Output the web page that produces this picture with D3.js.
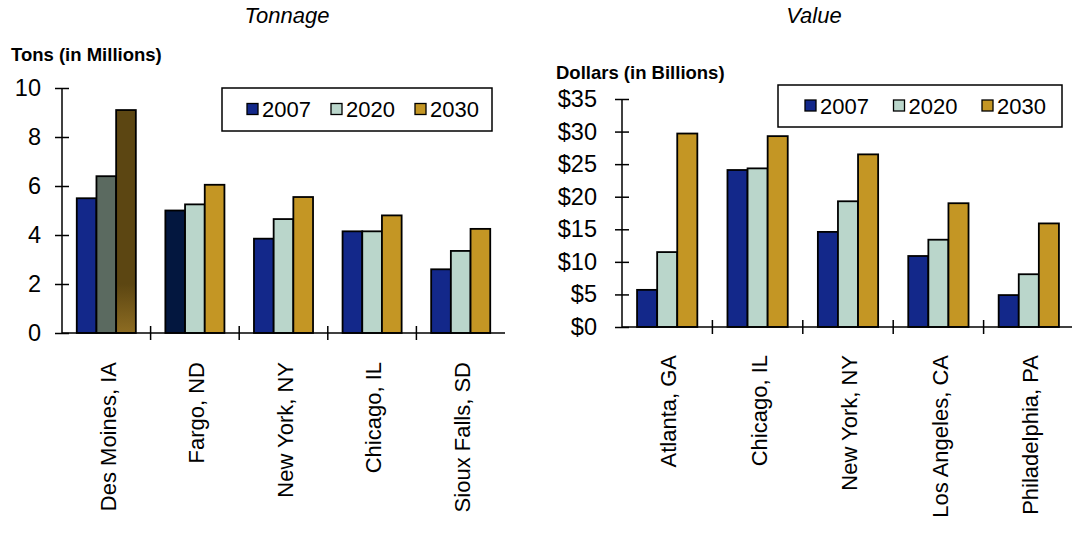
<!DOCTYPE html>
<html>
<head>
<meta charset="utf-8">
<script src="https://cdn.jsdelivr.net/npm/d3@7"></script>
<style>
  body { margin: 0; background: #fff; }
  svg { display: block; font-family: "Liberation Sans", Arial, sans-serif; }
</style>
</head>
<body>
<div id="vis"></div>
<script>
// ---- data ----
var years = ["2007", "2020", "2030"];

var tonCities = ["Des Moines, IA", "Fargo, ND", "New York, NY", "Chicago, IL", "Sioux Falls, SD"];
var tons2007 = [5.5, 5.0, 3.85, 4.15, 2.6];
var tons2020 = [6.4, 5.25, 4.65, 4.15, 3.35];
var tons2030 = [9.1, 6.05, 5.55, 4.8, 4.25];
var tonTicks = [0, 2, 4, 6, 8, 10];

var valCities = ["Atlanta, GA", "Chicago, IL", "New York, NY", "Los Angeles, CA", "Philadelphia, PA"];
var val2007 = [5.7, 24.1, 14.6, 10.9, 4.9];
var val2020 = [11.5, 24.35, 19.3, 13.4, 8.1];
var val2030 = [29.7, 29.3, 26.5, 19.0, 15.9];
var valTicks = [0, 5, 10, 15, 20, 25, 30, 35];

var colours = { "2007": "#13288a", "2020": "#bad6cb", "2030": "#c49624" };
// a few bars in the tonnage chart are drawn in darker shades
var highlight = {
  "Des Moines, IA|2020": "#5b6a60",
  "Des Moines, IA|2030": "url(#brownFade)",
  "Fargo, ND|2007": "#03173f"
};

var W = 1072, H = 533;

var svg = d3.select("#vis").append("svg")
  .attr("width", W)
  .attr("height", H);

var grad = svg.append("defs").append("linearGradient")
  .attr("id", "brownFade")
  .attr("x1", 0).attr("y1", 0).attr("x2", 0).attr("y2", 1);
grad.append("stop").attr("offset", "0").attr("stop-color", "#5c4612");
grad.append("stop").attr("offset", "0.78").attr("stop-color", "#5c4612");
grad.append("stop").attr("offset", "1").attr("stop-color", "#8d6c22");

function rows(cities, a, b, c) {
  return cities.map(function (city, i) {
    return { city: city, values: { "2007": a[i], "2020": b[i], "2030": c[i] } };
  });
}

function barChart(opt) {
  var g = svg.append("g");

  var x0 = d3.scaleBand()
    .domain(opt.data.map(function (d) { return d.city; }))
    .range([opt.left, opt.right])
    .padding(0);

  var x1 = d3.scaleBand()
    .domain(years)
    .range([0, x0.bandwidth()])
    .paddingInner(0)
    .paddingOuter(0.75);

  var y = d3.scaleLinear()
    .domain([0, opt.max])
    .range([opt.bottom, opt.top]);

  // title
  g.append("text")
    .attr("x", opt.titleX)
    .attr("y", 23)
    .attr("text-anchor", "middle")
    .style("font-size", "22px")
    .style("font-style", "italic")
    .text(opt.title);

  // y axis label
  g.append("text")
    .attr("x", opt.labelX)
    .attr("y", opt.labelY)
    .style("font-size", "18.5px")
    .style("font-weight", "bold")
    .text(opt.yLabel);

  // bars
  var groups = g.selectAll(".grp")
    .data(opt.data)
    .enter()
    .append("g")
    .attr("transform", function (d) { return "translate(" + x0(d.city) + ",0)"; });

  groups.selectAll("rect")
    .data(function (d) {
      return years.map(function (yr) { return { city: d.city, year: yr, v: d.values[yr] }; });
    })
    .enter()
    .append("rect")
    .attr("x", function (d) { return x1(d.year); })
    .attr("width", x1.bandwidth())
    .attr("y", function (d) { return y(d.v); })
    .attr("height", function (d) { return y(0) - y(d.v); })
    .attr("fill", function (d) {
      var key = d.city + "|" + d.year;
      return (opt.highlight && opt.highlight[key]) || colours[d.year];
    })
    .attr("stroke", "#000")
    .attr("stroke-width", 1.8);

  // y axis
  var yAxis = d3.axisLeft(y)
    .tickValues(opt.ticks)
    .tickFormat(opt.fmt)
    .tickSize(7)
    .tickPadding(opt.tickPad);

  var ya = g.append("g")
    .attr("transform", "translate(" + opt.left + ",0)")
    .call(yAxis);
  ya.select(".domain").remove();
  ya.selectAll(".tick line").attr("x1", 7).attr("x2", -7).attr("stroke", "#000").attr("stroke-width", 1.5);
  ya.selectAll(".tick text")
    .attr("fill", "#000")
    .style("font-size", "23.5px")
    .style("font-family", "'Liberation Sans', Arial, sans-serif");

  g.append("line")
    .attr("x1", opt.left).attr("x2", opt.left)
    .attr("y1", y(opt.max)).attr("y2", y(0))
    .attr("stroke", "#000").attr("stroke-width", 1.5);

  // x axis
  g.append("line")
    .attr("x1", opt.left).attr("x2", opt.right)
    .attr("y1", y(0)).attr("y2", y(0))
    .attr("stroke", "#000").attr("stroke-width", 1.5);

  g.selectAll(".xtick")
    .data(opt.data.slice(1))
    .enter()
    .append("line")
    .attr("x1", function (d) { return x0(d.city); })
    .attr("x2", function (d) { return x0(d.city); })
    .attr("y1", y(0) - 7)
    .attr("y2", y(0) + 7)
    .attr("stroke", "#000")
    .attr("stroke-width", 1.5);

  g.selectAll(".xlab")
    .data(opt.data)
    .enter()
    .append("text")
    .attr("transform", function (d) {
      return "translate(" + (x0(d.city) + x0.bandwidth() / 2) + "," + (y(0) + opt.labelGap) + ") rotate(-90)";
    })
    .attr("text-anchor", "end")
    .attr("dy", "0.42em")
    .style("font-size", "22px")
    .text(function (d) { return d.city; });

  // legend
  var lg = g.append("g");
  lg.append("rect")
    .attr("x", opt.legend.x)
    .attr("y", opt.legend.y)
    .attr("width", opt.legend.w)
    .attr("height", opt.legend.h)
    .attr("fill", "#fff")
    .attr("stroke", "#000")
    .attr("stroke-width", 1.5);

  var items = lg.selectAll(".item")
    .data(years)
    .enter()
    .append("g")
    .attr("transform", function (d, i) {
      return "translate(" + (opt.legend.x + opt.legend.first + i * opt.legend.step) + "," + (opt.legend.y + opt.legend.h / 2) + ")";
    });

  items.append("rect")
    .attr("x", 0)
    .attr("y", -6)
    .attr("width", 11)
    .attr("height", 11)
    .attr("fill", function (d) { return colours[d]; })
    .attr("stroke", "#000")
    .attr("stroke-width", 1.3);

  items.append("text")
    .attr("x", 15)
    .attr("y", 7.5)
    .style("font-size", "22px")
    .text(function (d) { return d; });
}

barChart({
  data: rows(tonCities, tons2007, tons2020, tons2030),
  left: 62, right: 505, top: 88, bottom: 333, max: 10,
  ticks: tonTicks,
  fmt: d3.format("d"),
  tickPad: 14,
  title: "Tonnage", titleX: 287,
  yLabel: "Tons (in Millions)", labelX: 11, labelY: 61,
  labelGap: 29,
  highlight: highlight,
  legend: { x: 222, y: 88, w: 270, h: 43, first: 25, step: 84 }
});

barChart({
  data: rows(valCities, val2007, val2020, val2030),
  left: 622, right: 1074, top: 99, bottom: 327, max: 35,
  ticks: valTicks,
  fmt: function (d) { return "$" + d; },
  tickPad: 18,
  title: "Value", titleX: 814,
  yLabel: "Dollars (in Billions)", labelX: 556, labelY: 79,
  labelGap: 28,
  highlight: null,
  legend: { x: 778, y: 85, w: 284, h: 42, first: 27, step: 88.5 }
});
</script>
</body>
</html>
